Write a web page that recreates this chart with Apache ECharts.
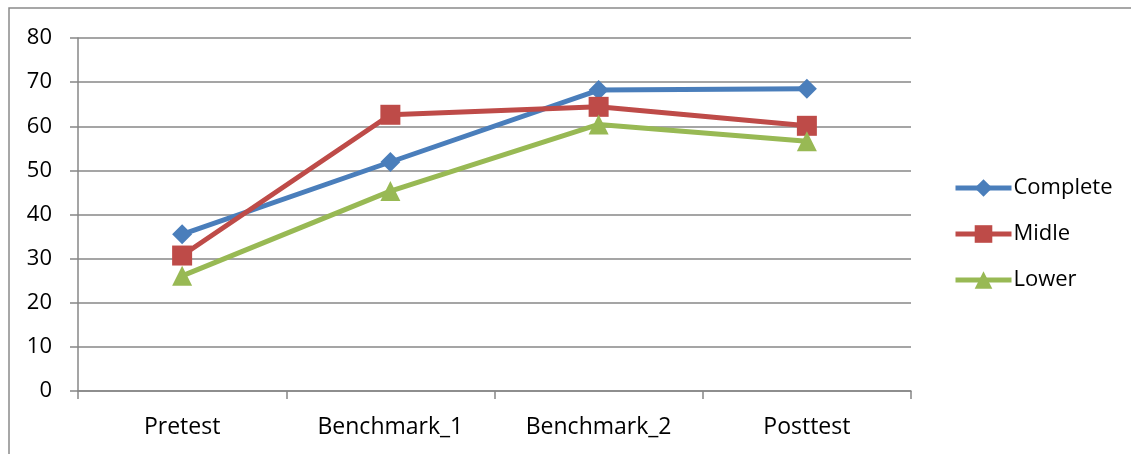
<!DOCTYPE html>
<html><head><meta charset="utf-8">
<script src="https://cdn.jsdelivr.net/npm/echarts@6/dist/echarts.min.js"></script>
<style>html,body{margin:0;padding:0;background:#fff}#c{width:1131px;height:454px}</style>
</head><body><div id="c"></div>
<script>
var categories = ['Pretest', 'Benchmark_1', 'Benchmark_2', 'Posttest'];
var complete = [35.5, 51.9, 68.2, 68.5];
var midle = [30.7, 62.6, 64.4, 60.1];
var lower = [26.1, 45.3, 60.4, 56.6];
var yTicks = [0, 10, 20, 30, 40, 50, 60, 70, 80];

var font = '"Open Sans", "Liberation Sans", sans-serif';
var chart = echarts.init(document.getElementById('c'));
function ser(name, data, color, symbol, size) {
  return {
    name: name, type: 'line', data: data, symbol: symbol, symbolSize: size,
    lineStyle: {color: color, width: 5}, itemStyle: {color: color},
    emphasis: {disabled: true}, animation: false
  };
}
chart.setOption({
  animation: false,
  graphic: [{type: 'rect', shape: {x: 9, y: 8, width: 1200, height: 500},
    style: {fill: 'none', stroke: '#8a8a8a', lineWidth: 1.5}, silent: true}],
  grid: {left: 78, right: 220, top: 38, bottom: 63},
  legend: {
    orient: 'vertical', left: 948, top: 172, itemGap: 24, itemWidth: 56, itemHeight: 22,
    lineStyle: {width: 5},
    textStyle: {fontFamily: font, fontSize: 22, color: '#000', padding: [0, 0, 0, -3]},
    data: ['Complete', 'Midle', 'Lower']
  },
  xAxis: {
    type: 'category', data: categories, boundaryGap: true,
    axisLine: {lineStyle: {color: '#878787', width: 1.5}},
    axisTick: {show: true, length: 8, lineStyle: {color: '#878787', width: 1.5}},
    axisLabel: {fontFamily: font, fontSize: 23, color: '#000', margin: 25},
    splitLine: {show: false}
  },
  yAxis: {
    type: 'value', min: yTicks[0], max: yTicks[yTicks.length - 1], interval: 10,
    axisLine: {show: true, lineStyle: {color: '#878787', width: 1.5}},
    axisTick: {show: true, length: 8, lineStyle: {color: '#878787', width: 1.5}},
    axisLabel: {fontFamily: font, fontSize: 22, color: '#000', margin: 26},
    splitLine: {lineStyle: {color: '#878787', width: 1.5}}
  },
  series: [
    ser('Complete', complete, '#4A7EBB', 'diamond', 20),
    ser('Midle', midle, '#BE4B48', 'rect', 20),
    ser('Lower', lower, '#98B954', 'triangle', 20)
  ]
});
</script></body></html>
